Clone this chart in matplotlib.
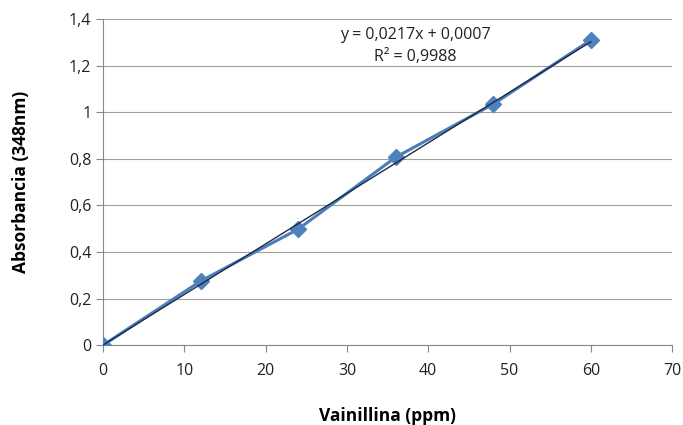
import matplotlib.pyplot as plt
import numpy as np

conc = [0, 12, 24, 36, 48, 60]
absorb = [0.0, 0.275, 0.498, 0.807, 1.035, 1.31]
slope = 0.0217
intercept = 0.0007
eq_text = "y = 0,0217x + 0,0007\nR² = 0,9988"

plt.rcParams['font.family'] = ['Open Sans', 'DejaVu Sans']

fig = plt.figure(figsize=(6.83, 4.25), dpi=100)
ax = fig.add_axes([0.151, 0.188, 0.833, 0.767])

ax.plot(conc, absorb, color='#4A7EBB', lw=2.2, marker='D', ms=8,
        mfc='#4F81BD', mec='#4F81BD', zorder=3)
xt = np.array([conc[0], conc[-1]])
ax.plot(xt, slope * xt + intercept, color='#1F2A44', lw=1.0, zorder=4)

ax.text(38.4, 1.285, eq_text, ha='center', va='center', fontsize=11.5,
        linespacing=1.45, color='#222222')

ax.set_xlim(0, 70)
ax.set_ylim(0, 1.4)
ax.set_xticks(range(0, 71, 10))
yt = np.arange(0, 1.41, 0.2)
ax.set_yticks(yt)
ax.set_yticklabels([('%g' % round(v, 1)).replace('.', ',') for v in yt])
ax.grid(axis='y', color='#a0a0a0', lw=0.8)
ax.set_axisbelow(True)
for s in ['top', 'right']:
    ax.spines[s].set_visible(False)
ax.spines['left'].set_color('#888888')
ax.spines['bottom'].set_color('#888888')
ax.tick_params(colors='#888888', labelcolor='#222222', labelsize=11.5, length=5)
ax.tick_params(axis='x', pad=8)

ax.set_xlabel('Vainillina (ppm)', fontsize=12.5, fontweight='bold', labelpad=20)
ax.set_ylabel('Absorbancia (348nm)', fontsize=12.5, fontweight='bold', labelpad=28)

fig.savefig('out.png', dpi=100)
